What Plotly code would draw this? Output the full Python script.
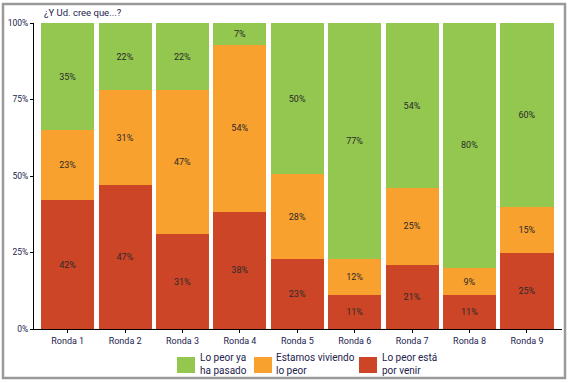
import plotly.graph_objects as go

rondas = ["Ronda 1", "Ronda 2", "Ronda 3", "Ronda 4", "Ronda 5",
          "Ronda 6", "Ronda 7", "Ronda 8", "Ronda 9"]
por_venir = [42, 47, 31, 38, 23, 11, 21, 11, 25]
viviendo = [23, 31, 47, 54, 28, 12, 25, 9, 15]
ha_pasado = [35, 22, 22, 7, 50, 77, 54, 80, 60]

series = [
    ("Lo peor está<br>por venir", por_venir, "#cd4527"),
    ("Estamos viviendo<br>lo peor", viviendo, "#f9a12e"),
    ("Lo peor ya<br>ha pasado", ha_pasado, "#93c750"),
]

FONT = "Liberation Sans Narrow, Roboto, Arial"
TXT = "#23234d"

L, R, T, B = 34, 9, 23, 54
W, H = 571, 383
PW, PH = W - L - R, H - T - B


def px(x):
    return (x - L) / PW


def py(y):
    return (H - B - y) / PH


fig = go.Figure()
for name, vals, color in series:
    fig.add_trace(go.Bar(
        x=rondas, y=vals, name=name,
        marker=dict(color=color, line=dict(width=0)),
        text=vals, texttemplate="%{text}%", textposition="inside",
        insidetextanchor="middle",
        textfont=dict(size=9, color="#2a2a2a", family=FONT),
        hoverinfo="skip", showlegend=False,
    ))

# manual legend (green, orange, red order left to right)
legend_pos = [(177, 198), (254, 274), (359, 380)]
shapes = [dict(type="rect", xref="paper", yref="paper",
               x0=px(3), x1=px(565), y0=py(378), y1=py(4),
               line=dict(color="#9a9a9a", width=2.5), layer="below")]
annotations = [dict(text="¿Y Ud. cree que...?", xref="paper", yref="paper",
                    x=px(42), y=1, xanchor="left", yanchor="bottom",
                    yshift=3, showarrow=False,
                    font=dict(size=9.5, color=TXT, family=FONT))]
for (sx, tx), (name, vals, color) in zip(legend_pos, list(reversed(series))):
    shapes.append(dict(type="rect", xref="paper", yref="paper",
                       x0=px(sx), x1=px(sx + 18), y0=py(373), y1=py(357),
                       fillcolor=color, line=dict(width=0)))
    annotations.append(dict(text=name, xref="paper", yref="paper",
                            x=px(tx), y=py(364), xanchor="left",
                            yanchor="middle", align="left", showarrow=False,
                            font=dict(size=10, color=TXT, family=FONT)))

fig.update_layout(
    barmode="stack", barnorm="percent", bargap=0.075,
    width=W, height=H,
    margin=dict(l=L, r=R, t=T, b=B, autoexpand=False),
    plot_bgcolor="white", paper_bgcolor="white",
    font=dict(family=FONT, size=9, color=TXT),
    showlegend=False,
    uniformtext=dict(minsize=6, mode="show"),
    xaxis=dict(range=[-0.587, 8.61], showline=True, linecolor="black",
               linewidth=1, ticks="outside", ticklen=3, tickcolor="black",
               tickfont=dict(size=9, color=TXT), showgrid=False,
               fixedrange=True),
    yaxis=dict(range=[0, 100], tickvals=[0, 25, 50, 75, 100],
               ticktext=["0%", "25%", "50%", "75%", "100%"],
               showline=True, linecolor="black", linewidth=1,
               ticks="outside", ticklen=3, tickcolor="black",
               tickfont=dict(size=8.5, color=TXT), showgrid=False,
               zeroline=False, fixedrange=True),
    annotations=annotations,
    shapes=shapes,
)

fig.write_html("out.html", config={"displayModeBar": False},
               post_script="document.body.style.margin='0';"
                           "document.body.style.padding='0';"
                           "document.body.style.overflow='hidden';")
